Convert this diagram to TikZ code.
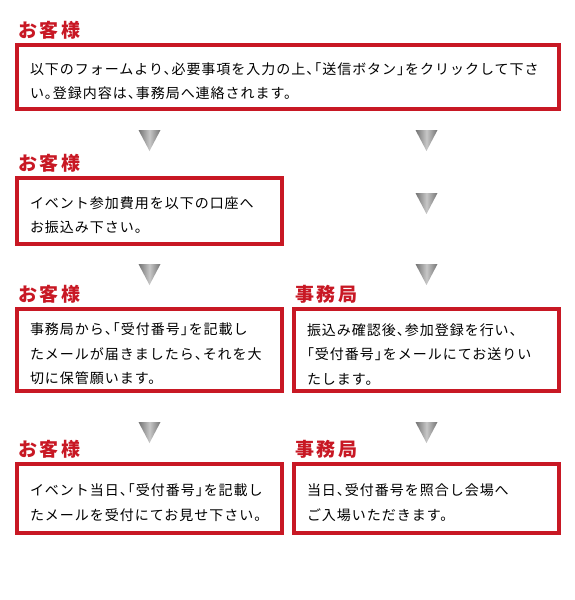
\documentclass[tikz,border=0pt]{standalone}
\usepackage{fontspec}
\setmainfont{Noto Sans CJK JP}[LetterSpace=7, RawFeature=+halt]
\newfontfamily\headfont{Noto Sans CJK JP}[LetterSpace=14]
\usepackage{tikz}
\usetikzlibrary{positioning}
\usepackage{xcolor}
\definecolor{regred}{RGB}{200,24,36}

\begin{document}
\begin{tikzpicture}[x=1pt, y=-1pt,
    stepbox/.style={draw=regred, line width=4pt, rectangle, inner xsep=13pt,
        text width=239pt, align=left, text height=20pt,
        font=\fontsize{14}{24.5}\selectfont},
    head/.style={text=regred, inner sep=0pt, font=\fontsize{19}{19}\headfont\bfseries},
    tri/.style={left color=black!55, right color=black!55, middle color=black!22}]
    \useasboundingbox (0,0) rectangle (575,600);

    % Boxes
    \node (box1) [stepbox, text width=516pt, minimum height=64pt] at (288,77)
        {以下のフォームより、必要事項を入力の上、「送信ボタン」をクリックして下さ\\い。登録内容は、事務局へ連絡されます。};
    \node (box2) [stepbox, minimum height=66pt] at (149.5,211)
        {イベント参加費用を以下の口座へ\\お振込み下さい。};
    \node (box3) [stepbox, minimum height=82pt] at (149.5,350)
        {事務局から、「受付番号」を記載し\\たメールが届きましたら、それを大\\切に保管願います。};
    \node (box4) [stepbox, minimum height=82pt] at (426.5,350)
        {振込み確認後、参加登録を行い、\\「受付番号」をメールにてお送りい\\たします。};
    \node (box5) [stepbox, minimum height=69pt] at (149.5,498.5)
        {イベント当日、「受付番号」を記載し\\たメールを受付にてお見せ下さい。};
    \node (box6) [stepbox, minimum height=69pt] at (426.5,498.5)
        {当日、受付番号を照合し会場へ\\ご入場いただきます。};

    % Headings
    \node (head1) [head, above right=3pt and 3pt of box1.north west] {お客様};
    \node (head2) [head, above right=3pt and 3pt of box2.north west] {お客様};
    \node (head3) [head, above right=3pt and 3pt of box3.north west] {お客様};
    \node (head4) [head, above right=3pt and 3pt of box4.north west] {事務局};
    \node (head5) [head, above right=3pt and 3pt of box5.north west] {お客様};
    \node (head6) [head, above right=3pt and 3pt of box6.north west] {事務局};

    % Down triangles
    \foreach \tx/\ty in {149.5/130, 426.5/130, 426.5/193, 149.5/264,
                         426.5/264, 149.5/422, 426.5/422}
        \shade[tri] (\tx-11,\ty) -- (\tx+11,\ty) -- (\tx,\ty+21) -- cycle;
\end{tikzpicture}
\end{document}
